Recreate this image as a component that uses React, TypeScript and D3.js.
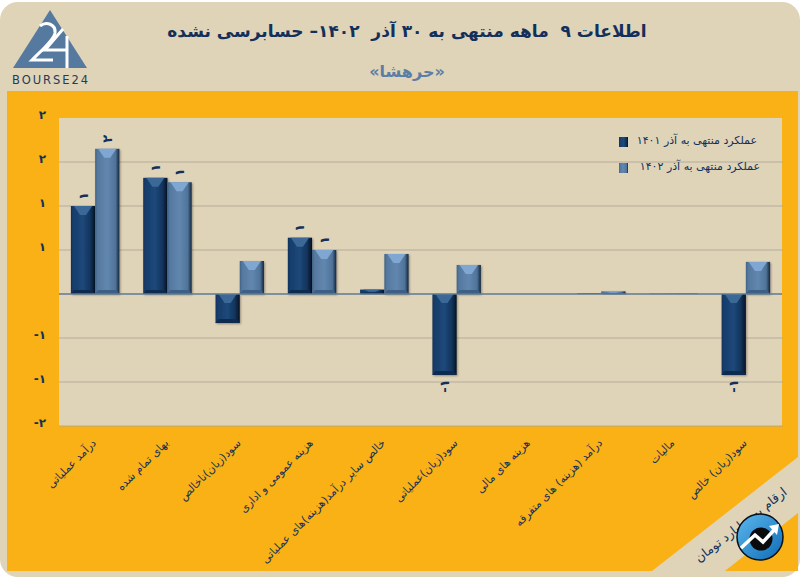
import * as d3 from 'd3';

const categories = [
  'درآمد عملیاتی',
  'بهای تمام شده',
  'سود(زیان)ناخالص',
  'هزینه عمومی و اداری',
  'خالص سایر درآمد(هزینه)های عملیاتی',
  'سود(زیان)عملیاتی',
  'هزینه های مالی',
  'درآمد (هزینه) های متفرقه',
  'مالیات',
  'سود(زیان) خالص',
];
const series1401 = [1.0, 1.32, -0.33, 0.64, 0.05, -0.92, 0, 0.005, 0.003, -0.92];
const series1402 = [1.65, 1.27, 0.375, 0.5, 0.455, 0.33, 0, 0.03, 0.005, 0.365];
const yTicks = [2, 1.5, 1, 0.5, 0, -0.5, -1, -1.5];
const legendLabels = ['عملکرد منتهی به آذر ۱۴۰۱', 'عملکرد منتهی به آذر ۱۴۰۲'];
const title = 'اطلاعات ۹  ماهه منتهی به ۳۰ آذر  ۱۴۰۲– حسابرسی نشده';
const subtitle = '«حرهشا»';
const unitNote = 'ارقام به میلیارد تومان';

const FONT = '"DejaVu Sans", sans-serif';
const NAVY = '#12305a';
const BEIGE = '#dfd3b8';
const YELLOW = '#f9b115';

const x0 = d3.scaleBand<string>().domain(categories).range([59, 782]).paddingInner(0.33).paddingOuter(0.165);
const x1 = d3.scaleBand<string>().domain(['a', 'b']).range([0, x0.bandwidth()]);
const y = d3.scaleLinear().domain([-1.5, 2]).range([426, 118]);

// the source rounds everything to whole numbers, zeros are dropped
const toFa = (v: number) => {
  const r = Math.round(Math.abs(v));
  return (v < 0 ? '-' : '') + String(r).replace(/\d/g, (d) => '۰۱۲۳۴۵۶۷۸۹'[+d]);
};

function Bar({ cat, value, k }: { cat: string; value: number; k: 'a' | 'b' }) {
  if (value === 0) return null;
  const bx = x0(cat)! + x1(k)!;
  const w = x1.bandwidth();
  const top = Math.min(y(value), y(0));
  const h = Math.abs(y(value) - y(0));
  const d = Math.min(9, h / 2);
  const b = Math.min(4, h / 3);
  const isA = k === 'a';
  const label = Math.round(Math.abs(value)) > 0 ? toFa(value) : null;
  const lx = bx + w / 2;
  const ly = value > 0 ? top - 10 : top + h + 11;
  return (
    <g>
      <rect x={bx} y={top} width={w} height={h} fill={`url(#grad-${k})`} filter="url(#shadow)" />
      <polygon
        points={`${bx + 3},${top} ${bx + w - 3},${top} ${bx + w / 2 + 3},${top + d} ${bx + w / 2 - 3},${top + d}`}
        fill={isA ? '#3b6896' : '#80a7d2'}
      />
      <polygon
        points={`${bx},${top + h} ${bx + w},${top + h} ${bx + w - 3},${top + h - b} ${bx + 3},${top + h - b}`}
        fill={isA ? '#0d2a4f' : '#3d5f85'}
      />
      {label && (
        <text
          transform={`translate(${lx},${ly}) rotate(-90)`}
          textAnchor="middle"
          dominantBaseline="central"
          fontFamily={FONT}
          fontWeight="bold"
          fontSize={13}
          fill={NAVY}
          style={{ direction: 'ltr' }}
        >
          {label}
        </text>
      )}
    </g>
  );
}

function Logo() {
  return (
    <g>
      <polygon points="50,10 87,68 13,68" fill="#55799f" />
      <path d="M40,26 C46,21 56,24 55,33 C54,40 42,50 32,60 L53,60" fill="none" stroke="#fff" strokeWidth={3} />
      <path d="M63,29 L45,50 L68,50 M67,36 L67,68" fill="none" stroke="#fff" strokeWidth={3} />
      <text x={12} y={84} textLength={76} lengthAdjust="spacing" fontFamily={FONT} fontSize={11.5} fill="#233c5a">
        BOURSE24
      </text>
    </g>
  );
}

function Badge() {
  return (
    <g>
      <circle cx={760} cy={537} r={23} fill="url(#badge)" stroke="#0a0f18" strokeWidth={1.5} />
      <circle cx={761} cy={539} r={11.5} fill="#0b0b0e" />
      <path d="M741,548 L755,535 L763,542 L775,529" fill="none" stroke="#fff" strokeWidth={3.5} />
      <polygon points="779,524 769,526 777,535" fill="#fff" />
    </g>
  );
}

export default function App() {
  return (
    <svg
      width={800}
      height={577}
      viewBox="0 0 800 577"
      style={{ position: 'absolute', left: 0, top: 0, display: 'block', background: '#fff' }}
    >
      <defs>
        <linearGradient id="grad-a" x1="0" x2="1" y1="0" y2="0">
          <stop offset="0" stopColor="#0f2f58" />
          <stop offset="0.08" stopColor="#173d6b" />
          <stop offset="0.5" stopColor="#1c487a" />
          <stop offset="0.82" stopColor="#113259" />
          <stop offset="1" stopColor="#04101f" />
        </linearGradient>
        <linearGradient id="grad-b" x1="0" x2="1" y1="0" y2="0">
          <stop offset="0" stopColor="#3f6288" />
          <stop offset="0.1" stopColor="#55789e" />
          <stop offset="0.5" stopColor="#6287af" />
          <stop offset="0.84" stopColor="#4f7399" />
          <stop offset="1" stopColor="#14263c" />
        </linearGradient>
        <linearGradient id="badge" x1="0" x2="1" y1="0" y2="1">
          <stop offset="0" stopColor="#5cb8ee" />
          <stop offset="1" stopColor="#0f6cb5" />
        </linearGradient>
        <filter id="shadow" x="-20%" y="-20%" width="140%" height="140%">
          <feDropShadow dx={1} dy={1} stdDeviation={1} floodColor="#000" floodOpacity={0.35} />
        </filter>
      </defs>

      <rect x={0} y={2} width={800} height={575} rx={18} fill={BEIGE} />
      <rect x={7} y={91} width={791} height={480} fill={YELLOW} />
      <polygon points="652,571 798,457 798,513 725,571" fill={BEIGE} />
      <rect x={59} y={118} width={723} height={308} fill={BEIGE} />

      <Logo />
      <text
        x={407}
        y={37}
        textAnchor="middle"
        fontFamily={FONT}
        fontWeight="bold"
        fontSize={17}
        fill={NAVY}
        style={{ direction: 'rtl', whiteSpace: 'pre', unicodeBidi: 'plaintext' }}
      >
        {title}
      </text>
      <text x={407} y={77} textAnchor="middle" fontFamily={FONT} fontWeight="bold" fontSize={16} fill="#5b7ea6" style={{ direction: 'rtl' }}>
        {subtitle}
      </text>

      {yTicks.filter((t) => t !== 0 && t !== 2).map((t) => (
        <line key={t} x1={59} x2={783} y1={y(t)} y2={y(t)} stroke="#aaa392" strokeWidth={0.8} />
      ))}

      {yTicks.filter((t) => t !== 0).map((t) => (
        <text
          key={t}
          x={46}
          y={y(t) - 3}
          textAnchor="end"
          dominantBaseline="central"
          fontFamily={FONT}
          fontWeight="bold"
          fontSize={12}
          fill={NAVY}
          style={{ direction: 'ltr' }}
        >
          {toFa(t)}
        </text>
      ))}

      {categories.map((c, i) => (
        <g key={c}>
          <Bar cat={c} value={series1401[i]} k="a" />
          <Bar cat={c} value={series1402[i]} k="b" />
        </g>
      ))}
      <line x1={59} x2={782} y1={y(0)} y2={y(0)} stroke="#5e7a92" strokeWidth={1.5} />

      {categories.map((c) => (
        <text
          key={c}
          transform={`translate(${x0(c)! + x0.bandwidth() / 2 - 4},${438}) rotate(-45)`}
          textAnchor="start"
          dominantBaseline="hanging"
          fontFamily={FONT}
          fontSize={11}
          fill={NAVY}
          style={{ direction: 'rtl' }}
        >
          {c}
        </text>
      ))}

      {legendLabels.map((l, i) => (
        <g key={l}>
          <rect x={619} y={137 + i * 26} width={9} height={10} fill={`url(#grad-${i === 0 ? 'a' : 'b'})`} />
          <text
            x={757 + i * 3}
            y={140 + i * 26}
            textAnchor="start"
            dominantBaseline="central"
            fontFamily={FONT}
            fontSize={11}
            fill={NAVY}
            style={{ direction: 'rtl' }}
          >
            {l}
          </text>
        </g>
      ))}

      <text
        transform="translate(785,490) rotate(-38)"
        textAnchor="start"
        dominantBaseline="central"
        fontFamily={FONT}
        fontSize={12.5}
        fill={NAVY}
        style={{ direction: 'rtl' }}
      >
        {unitNote}
      </text>
      <Badge />
    </svg>
  );
}
